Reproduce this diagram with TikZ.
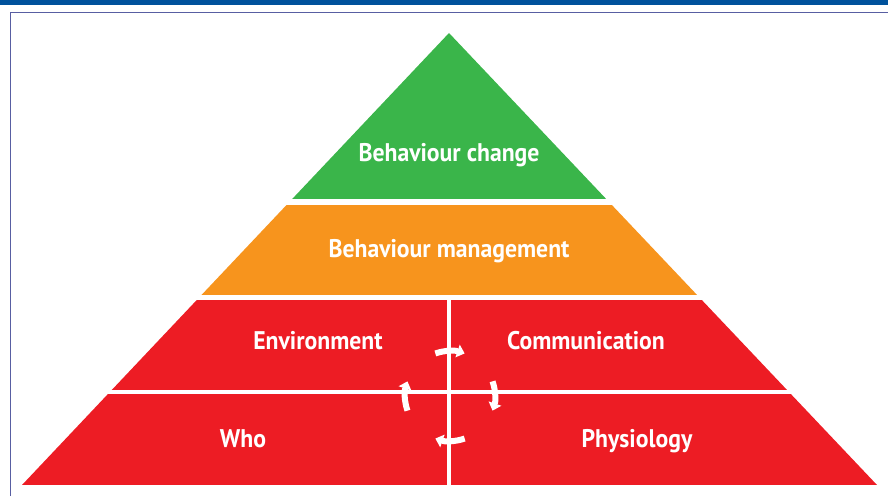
\documentclass[tikz,border=0pt]{standalone}
\usepackage{fontspec}
\setmainfont{PT Sans}[FakeStretch=0.93]
\usetikzlibrary{arrows.meta}
\definecolor{barblue}{RGB}{0,82,156}
\definecolor{framebl}{RGB}{88,94,162}
\definecolor{lvgreen}{RGB}{58,181,74}
\definecolor{lvorange}{RGB}{247,148,29}
\definecolor{lvred}{RGB}{237,28,36}
\tikzset{
  lbl/.style={text=white, font=\bfseries\fontsize{25.5}{28}\selectfont, inner sep=0pt, anchor=base},
  cyc/.style={white, line width=6pt, -{Triangle[width=13pt,length=7.5pt]}},
}
\begin{document}
\begin{tikzpicture}[x=1pt,y=1pt]
  \useasboundingbox (0,0) rectangle (888,496);
  % header bar and frame
  \fill[barblue] (0,491) rectangle (888,496);
  \draw[framebl, line width=1.5pt] (10.5,0) -- (10.5,483.5) -- (888,483.5);
  % pyramid bands
  \begin{scope}
    \clip (22,11) -- (449,463) -- (877,11) -- cycle;
    \fill[lvgreen]  (0,297) rectangle (888,470);
    \fill[lvorange] (0,201) rectangle (888,291);
    \fill[lvred]    (0,106) rectangle (888,196);
    \fill[lvred]    (0,11)  rectangle (888,102);
  \end{scope}
  % split of the lower bands
  \fill[white] (447,11) rectangle (451,196);
  % labels
  \node[lbl] (chg)  at (449,334)   {Behaviour change};
  \node[lbl] (mgmt) at (449,238.5) {Behaviour management};
  \node[lbl] (env)  at (318,147)   {Environment};
  \node[lbl] (comm) at (586,147)   {Communication};
  \node[lbl] (who)  at (243,49)    {Who};
  \node[lbl] (phys) at (637,49)    {Physiology};
  % circular arrows
  \coordinate (ctr) at (450,100);
  \draw[cyc] ([shift={(109:45)}]ctr) arc[start angle=109, end angle=71, radius=45];
  \draw[cyc] ([shift={(19:45)}]ctr) arc[start angle=19, end angle=-19, radius=45];
  \draw[cyc] ([shift={(-71:45)}]ctr) arc[start angle=-71, end angle=-109, radius=45];
  \draw[cyc] ([shift={(199:45)}]ctr) arc[start angle=199, end angle=161, radius=45];
\end{tikzpicture}
\end{document}
